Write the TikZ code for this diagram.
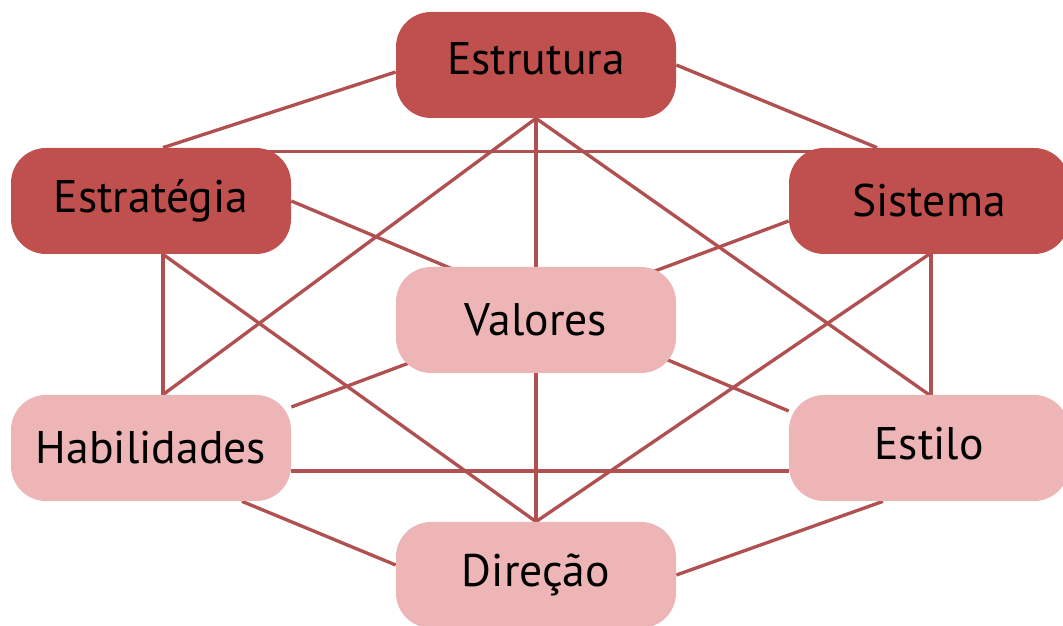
\documentclass[tikz,border=0pt]{standalone}
\usepackage{fontspec}
\setmainfont{PT Sans}
\usepackage{tikz}
\usetikzlibrary{backgrounds}

\definecolor{darkred}{HTML}{C0504D}
\definecolor{lightred}{HTML}{EDB5B5}
\definecolor{linkred}{HTML}{B05050}

\begin{document}
\begin{tikzpicture}[every node/.style = { align = center, shape = rectangle, rounded corners = .7cm,
      minimum width = 5.6cm, minimum height = 2.12cm, font = \fontsize{26}{31}\selectfont },
    hard/.style = { fill = darkred },
    soft/.style = { fill = lightred },
    link/.style = { draw = linkred, line width = 1.9pt }]
  \useasboundingbox (0,0) rectangle (21.26,12.52);
  \node [hard] (estrutura)   at (10.72,11.22) {\raisebox{.26cm}{Estrutura}};
  \node [hard] (estrategia)  at (3.02,8.5)    {Estratégia};
  \node [hard] (sistema)     at (18.58,8.5)   {Sistema};
  \node [soft] (valores)     at (10.72,6.12)  {Valores};
  \node [soft] (habilidades) at (3.02,3.56)   {Habilidades};
  \node [soft] (estilo)      at (18.58,3.56)  {\raisebox{.2cm}{Estilo}};
  \node [soft] (direcao)     at (10.72,1.02)  {Direção};
  \begin{pgfonlayer}{background}
    % outer ring
    \draw [link] ([yshift=-.14cm]estrutura.west) -- ([xshift=.24cm]estrategia.north);
    \draw [link] (estrutura.east) -- ([xshift=-1.04cm]sistema.north);
    \draw [link] ([xshift=.24cm]estrategia.south) -- ([xshift=.24cm]habilidades.north);
    \draw [link] ([xshift=.04cm]sistema.south) -- ([xshift=.04cm]estilo.north);
    \draw [link] ([xshift=1.82cm]habilidades.south) -- ([yshift=.2cm]direcao.west);
    \draw [link] ([xshift=-.92cm]estilo.south) -- (direcao.east);
    % across
    \draw [link] ([yshift=-.08cm]estrategia.north) -- ([yshift=-.08cm]sistema.north);
    \draw [link] ([yshift=-.46cm]habilidades.east) -- ([yshift=-.46cm]estilo.west);
    \draw [link] (estrutura.south) -- (direcao.north);
    \draw [link] (estrategia.east) -- ([yshift=.74cm]estilo.west);
    \draw [link] ([yshift=-.4cm]sistema.west) -- ([yshift=.82cm]habilidades.east);
    \draw [link] (estrutura.south) -- ([xshift=.24cm]habilidades.north);
    \draw [link] (estrutura.south) -- (estilo.north);
    \draw [link] ([xshift=.24cm]estrategia.south) -- (direcao.north);
    \draw [link] (sistema.south) -- (direcao.north);
  \end{pgfonlayer}
\end{tikzpicture}
\end{document}
